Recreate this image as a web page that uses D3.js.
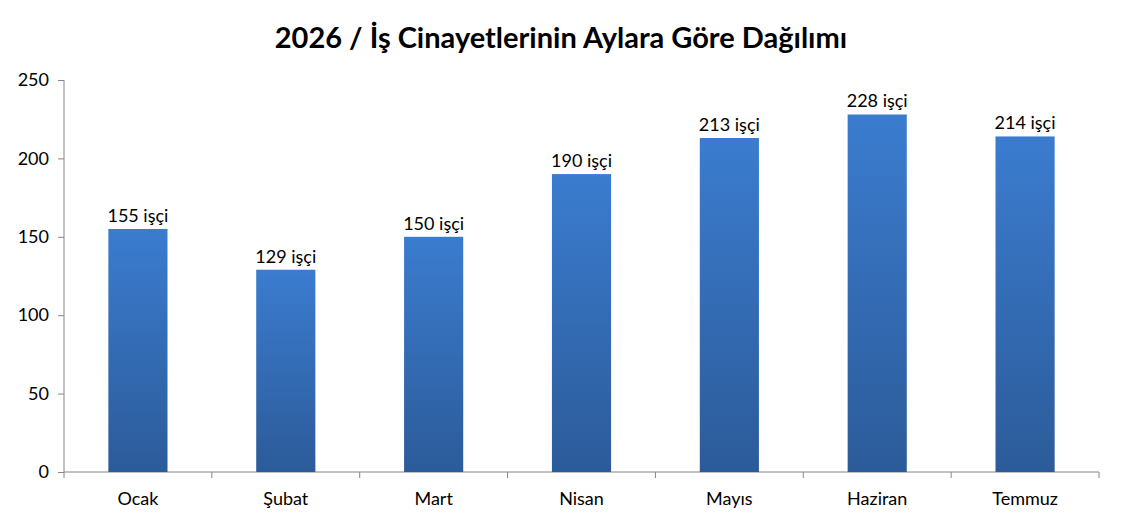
<!DOCTYPE html>
<html>
<head>
<meta charset="utf-8">
<script src="https://cdn.jsdelivr.net/npm/d3@7"></script>
<style>
body { margin: 0; background: #fff; }
text { font-family: Lato, "Open Sans", sans-serif; fill: #000; }
</style>
</head>
<body>
<div class="graph"></div>
<script>
// chart data
var months = ["Ocak", "Şubat", "Mart", "Nisan", "Mayıs", "Haziran", "Temmuz"];
var deaths = [155, 129, 150, 190, 213, 228, 214];
var yTicks = [0, 50, 100, 150, 200, 250];
var title = "2026 / İş Cinayetlerinin Aylara Göre Dağılımı";
var unit = " işçi";

var svgWidth = 1122;
var svgHeight = 525;
var plotLeft = 64, plotRight = 1099, plotTop = 80, plotBottom = 472;

var svg = d3.select("div.graph")
	.append("svg")
	.attr("width", svgWidth)
	.attr("height", svgHeight);

var defs = svg.append("defs");
var grad = defs.append("linearGradient")
	.attr("id", "barGrad")
	.attr("x1", 0).attr("y1", 0).attr("x2", 0).attr("y2", 1);
grad.append("stop").attr("offset", "0%").attr("stop-color", "#3b7ccf");
grad.append("stop").attr("offset", "100%").attr("stop-color", "#2c5b99");

var x = d3.scaleBand()
	.domain(months)
	.range([plotLeft, plotRight])
	.paddingInner(0.6)
	.paddingOuter(0.3);

var y = d3.scaleLinear()
	.domain([0, 250])
	.range([plotBottom, plotTop]);

// title
svg.append("text")
	.attr("x", 561)
	.attr("y", 48)
	.attr("text-anchor", "middle")
	.style("font-size", "29px")
	.style("font-weight", "bold")
	.text(title);

// y axis
var yAxis = d3.axisLeft(y).tickValues(yTicks).tickSize(6).tickPadding(9);
var gY = svg.append("g").attr("transform", "translate(" + plotLeft + ",0)").call(yAxis);
gY.select(".domain").attr("stroke", "#868686").attr("d", "M0," + plotTop + "V" + plotBottom);
gY.selectAll(".tick line").attr("stroke", "#868686");
gY.selectAll(".tick text").style("font-size", "18px").attr("fill", "#000")
	.style("font-family", "Lato, 'Open Sans', sans-serif");

// x axis
var xAxis = d3.axisBottom(x).tickSize(0).tickPadding(20);
var gX = svg.append("g").attr("transform", "translate(0," + plotBottom + ")").call(xAxis);
gX.select(".domain").attr("stroke", "#868686").attr("d", "M" + plotLeft + ",0H" + plotRight);
gX.selectAll(".tick text").style("font-size", "18px").attr("fill", "#000")
	.style("font-family", "Lato, 'Open Sans', sans-serif");

// boundary ticks between categories
var bounds = d3.range(months.length + 1).map(function(i) { return plotLeft + i * x.step(); });
gX.selectAll("line.bound")
	.data(bounds)
	.enter()
	.append("line")
	.attr("class", "bound")
	.attr("x1", function(d) { return d; })
	.attr("x2", function(d) { return d; })
	.attr("y1", 0)
	.attr("y2", 6)
	.attr("stroke", "#868686");

// bars
svg.append("g").selectAll("rect")
	.data(deaths)
	.enter()
	.append("rect")
	.attr("x", function(d, i) { return x(months[i]); })
	.attr("width", x.bandwidth())
	.attr("y", function(d) { return y(d); })
	.attr("height", function(d) { return y(0) - y(d); })
	.attr("fill", "url(#barGrad)");

// value labels
svg.append("g").selectAll("text")
	.data(deaths)
	.enter()
	.append("text")
	.attr("x", function(d, i) { return x(months[i]) + x.bandwidth() / 2; })
	.attr("y", function(d) { return y(d) - 7; })
	.attr("text-anchor", "middle")
	.style("font-size", "18px")
	.text(function(d) { return d + unit; });
</script>
</body>
</html>
